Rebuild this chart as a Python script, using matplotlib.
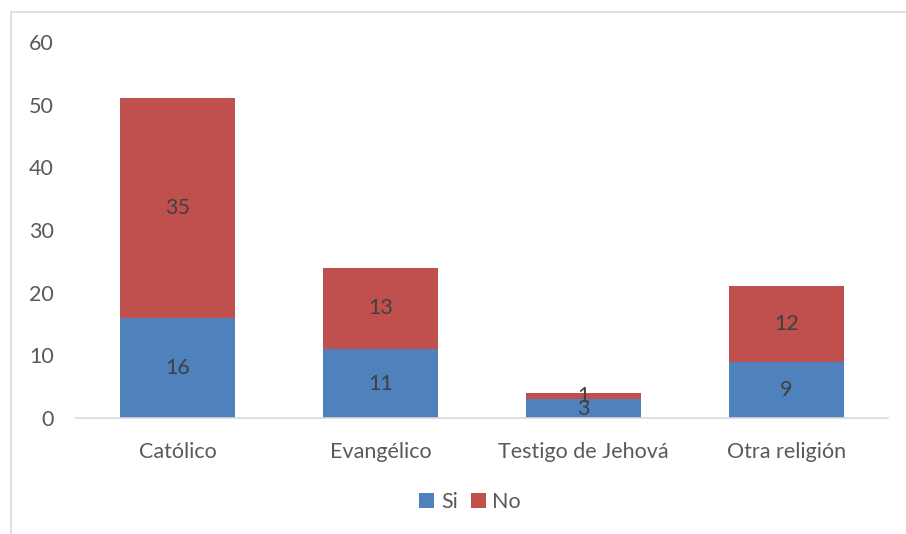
import matplotlib
matplotlib.use("Agg")
import matplotlib.pyplot as plt
from matplotlib.patches import Rectangle

# Religion vs Si/No counts
categories = ["Católico", "Evangélico", "Testigo de Jehová", "Otra religión"]
si_values = [16, 11, 3, 9]
no_values = [35, 13, 1, 12]

blue = "#4F81BD"
red = "#C0504D"
text_gray = "#595959"

plt.rcParams["font.family"] = ["Lato", "DejaVu Sans"]

fig = plt.figure(figsize=(9.06, 5.34), dpi=100)
ax = fig.add_axes([76 / 906, (534 - 418) / 534, (888 - 76) / 906, (418 - 42) / 534])

x = range(len(categories))
ax.bar(x, si_values, width=0.567, color=blue, label="Si")
ax.bar(x, no_values, width=0.567, bottom=si_values, color=red, label="No")

# value labels centred in each segment
for i in x:
    ax.text(i, si_values[i] / 2, str(si_values[i]), ha="center", va="center",
            fontsize=15.5, color="#404040")
    ax.text(i, si_values[i] + no_values[i] / 2, str(no_values[i]), ha="center",
            va="center", fontsize=15.5, color="#404040")

ax.set_xlim(-0.5, len(categories) - 0.5)
ax.set_ylim(0, 60)
ax.set_yticks(range(0, 61, 10))
ax.set_xticks(list(x))
ax.set_xticklabels(categories)

for side in ["top", "right", "left"]:
    ax.spines[side].set_visible(False)
ax.spines["bottom"].set_color("#D9D9D9")
ax.spines["bottom"].set_linewidth(1.2)
ax.tick_params(axis="both", length=0, labelsize=15.5, colors=text_gray)
ax.tick_params(axis="y", pad=16)
ax.tick_params(axis="x", pad=17)

leg = fig.legend(loc="center", bbox_to_anchor=(470 / 906, (534 - 502) / 534), ncol=2,
                 frameon=False, fontsize=15.5, handlelength=0.7, handleheight=0.7,
                 handletextpad=0.3, columnspacing=0.6)
for t in leg.get_texts():
    t.set_color(text_gray)

# outer chart border
fig.patches.append(Rectangle((11 / 906, -0.1), 1.2, (534 - 12) / 534 + 0.1,
                             transform=fig.transFigure, fill=False,
                             edgecolor="#D9D9D9", linewidth=1.2))

fig.savefig("out.png", dpi=100)
